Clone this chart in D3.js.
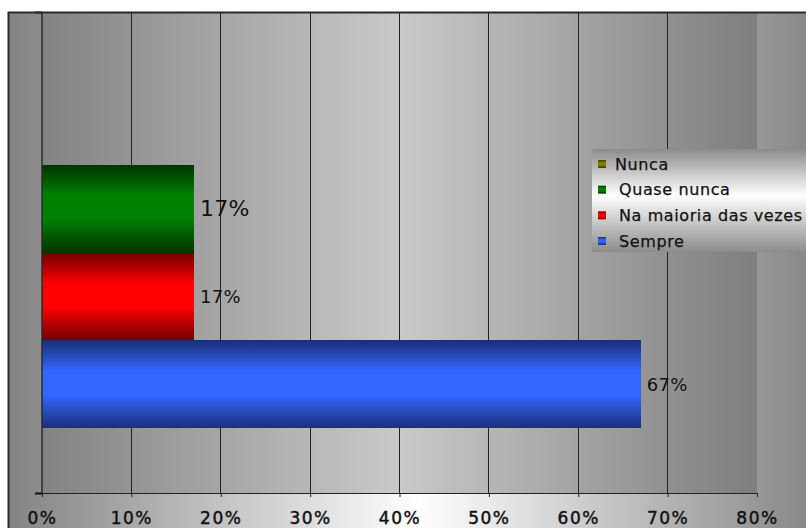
<!DOCTYPE html>
<html>
<head>
<meta charset="utf-8">
<script src="https://cdn.jsdelivr.net/npm/d3@7"></script>
<style>
  html, body { margin: 0; padding: 0; background: #ffffff; }
  svg { display: block; }
  text { font-family: "DejaVu Sans", Verdana, sans-serif; fill: #111; }
</style>
</head>
<body>
<script>
// Survey answers, one bar each, drawn top to bottom
const series = ["Nunca", "Quase nunca", "Na maioria das vezes", "Sempre"];
const values = [0, 0.17, 0.17, 0.67];
const seriesColors = [
  { edge: "#3d3d00", mid: "#808000" },
  { edge: "#003300", mid: "#008000" },
  { edge: "#6e0000", mid: "#ff0000" },
  { edge: "#1a2f78", mid: "#3366ff" }
];
const tickValues = [0, 0.1, 0.2, 0.3, 0.4, 0.5, 0.6, 0.7, 0.8];

const W = 806, H = 528;
const svg = d3.select("body").append("svg").attr("width", W).attr("height", H);
const defs = svg.append("defs");

// Chart area: horizontal gray-white-gray fill
const chartGrad = defs.append("linearGradient").attr("id", "chartGrad")
  .attr("gradientUnits", "userSpaceOnUse")
  .attr("x1", 8).attr("x2", 815).attr("y1", 0).attr("y2", 0);
chartGrad.append("stop").attr("offset", "0%").attr("stop-color", "#838383");
chartGrad.append("stop").attr("offset", "51%").attr("stop-color", "#ffffff");
chartGrad.append("stop").attr("offset", "100%").attr("stop-color", "#868686");

// Plot area: darker variant of the same sweep
const plotGrad = defs.append("linearGradient").attr("id", "plotGrad")
  .attr("x1", 0).attr("x2", 1).attr("y1", 0).attr("y2", 0);
plotGrad.append("stop").attr("offset", "0%").attr("stop-color", "#838383");
plotGrad.append("stop").attr("offset", "50%").attr("stop-color", "#c9c9c9");
plotGrad.append("stop").attr("offset", "100%").attr("stop-color", "#7e7e7e");

// Legend box: vertical gray-white-gray fill
const legGrad = defs.append("linearGradient").attr("id", "legGrad")
  .attr("x1", 0).attr("x2", 0).attr("y1", 0).attr("y2", 1);
legGrad.append("stop").attr("offset", "0%").attr("stop-color", "#8c8c8c");
legGrad.append("stop").attr("offset", "45%").attr("stop-color", "#ffffff");
legGrad.append("stop").attr("offset", "100%").attr("stop-color", "#8c8c8c");

// Bar fills: dark edges, bright centre band
seriesColors.forEach((c, i) => {
  const g = defs.append("linearGradient").attr("id", "barGrad" + i)
    .attr("x1", 0).attr("x2", 0).attr("y1", 0).attr("y2", 1);
  g.append("stop").attr("offset", "0%").attr("stop-color", c.edge);
  g.append("stop").attr("offset", "35%").attr("stop-color", c.mid);
  g.append("stop").attr("offset", "62%").attr("stop-color", c.mid);
  g.append("stop").attr("offset", "100%").attr("stop-color", c.edge);
});

const chartLeft = 8, chartTop = 12;
const plot = { left: 42, right: 757, top: 12, bottom: 493 };

// Chart area background
svg.append("rect")
  .attr("x", chartLeft).attr("y", chartTop)
  .attr("width", W + 40 - chartLeft).attr("height", H + 20 - chartTop)
  .attr("fill", "url(#chartGrad)");

// Plot area background
svg.append("rect")
  .attr("x", plot.left).attr("y", plot.top)
  .attr("width", plot.right - plot.left).attr("height", plot.bottom - plot.top)
  .attr("fill", "url(#plotGrad)");

const x = d3.scaleLinear().domain([0, 0.8]).range([plot.left, plot.right]);
const y = d3.scaleBand().domain(series).range([plot.top, plot.bottom])
  .paddingInner(0).paddingOuter(0.733);

// Vertical gridlines (interior only)
svg.append("g").selectAll("line").data(tickValues.slice(1, -1)).join("line")
  .attr("x1", d => x(d)).attr("x2", d => x(d))
  .attr("y1", plot.top).attr("y2", plot.bottom)
  .attr("stroke", "#222").attr("stroke-width", 1)
  .attr("shape-rendering", "crispEdges");

// Bars
svg.append("g").selectAll("rect").data(series).join("rect")
  .attr("x", x(0))
  .attr("y", d => y(d))
  .attr("width", (d, i) => x(values[i]) - x(0))
  .attr("height", y.bandwidth())
  .attr("fill", (d, i) => "url(#barGrad" + i + ")")
  .attr("shape-rendering", "crispEdges");

// Value labels (zero bars left unlabelled)
const labelSizes = [18, 22, 18, 18];
svg.append("g").selectAll("text").data(series.filter((d, i) => values[i] > 0)).join("text")
  .attr("x", d => x(values[series.indexOf(d)]) + 6)
  .attr("y", d => y(d) + y.bandwidth() / 2)
  .attr("dy", "0.36em")
  .attr("font-size", d => labelSizes[series.indexOf(d)])
  .attr("letter-spacing", "0.3px")
  .text(d => Math.round(values[series.indexOf(d)] * 100) + "%");

// Value axis along the bottom
const xAxis = d3.axisBottom(x).tickValues(tickValues)
  .tickFormat(d3.format(".0%")).tickSize(4).tickSizeOuter(0);
const gx = svg.append("g").attr("transform", `translate(0,${plot.bottom})`).call(xAxis);
gx.select(".domain").attr("stroke", "#222").attr("d", `M${plot.left - 7},0.5H${plot.right}`);
gx.selectAll(".tick line").attr("stroke", "#222");
gx.selectAll(".tick text")
  .attr("y", 19).attr("dy", "0.71em")
  .attr("font-family", "DejaVu Sans, Verdana, sans-serif")
  .attr("font-size", 17)
  .attr("letter-spacing", "1.5px")
  .attr("fill", "#111")
  .attr("stroke", "#111").attr("stroke-width", 0.45);

// Category axis on the left with boundary ticks
const gy = svg.append("g");
gy.append("line")
  .attr("x1", plot.left).attr("x2", plot.left)
  .attr("y1", plot.top).attr("y2", plot.bottom)
  .attr("stroke", "#2a2a2a").attr("stroke-width", 1.5);
gy.selectAll("line.tick").data([plot.top, plot.bottom]).join("line")
  .attr("class", "tick")
  .attr("x1", plot.left - 7).attr("x2", plot.left)
  .attr("y1", d => d + 0.5).attr("y2", d => d + 0.5)
  .attr("stroke", "#111").attr("stroke-width", 2);

// Chart border (top and left edges are visible)
svg.append("path")
  .attr("d", `M${chartLeft + 0.5},${H + 5}V${chartTop + 0.5}H${W + 5}`)
  .attr("fill", "none").attr("stroke", "#2a2a2a").attr("stroke-width", 2);

// Legend
const legend = svg.append("g").attr("transform", "translate(592,149)");
legend.append("rect").attr("width", 240).attr("height", 103).attr("fill", "url(#legGrad)");
const rowY = d3.scalePoint().domain(series).range([15, 92]);
const rows = legend.selectAll("g.row").data(series).join("g").attr("class", "row")
  .attr("transform", d => `translate(0,${rowY(d)})`);
rows.append("rect")
  .attr("x", 6).attr("y", -4).attr("width", 8).attr("height", 8)
  .attr("fill", (d, i) => "url(#barGrad" + i + ")");
rows.append("text")
  .attr("x", (d, i) => i === 0 ? 23 : 27).attr("dy", "0.36em")
  .attr("font-size", 16).attr("letter-spacing", "0.6px")
  .attr("stroke", "#111").attr("stroke-width", 0.25)
  .text(d => d);
</script>
</body>
</html>
